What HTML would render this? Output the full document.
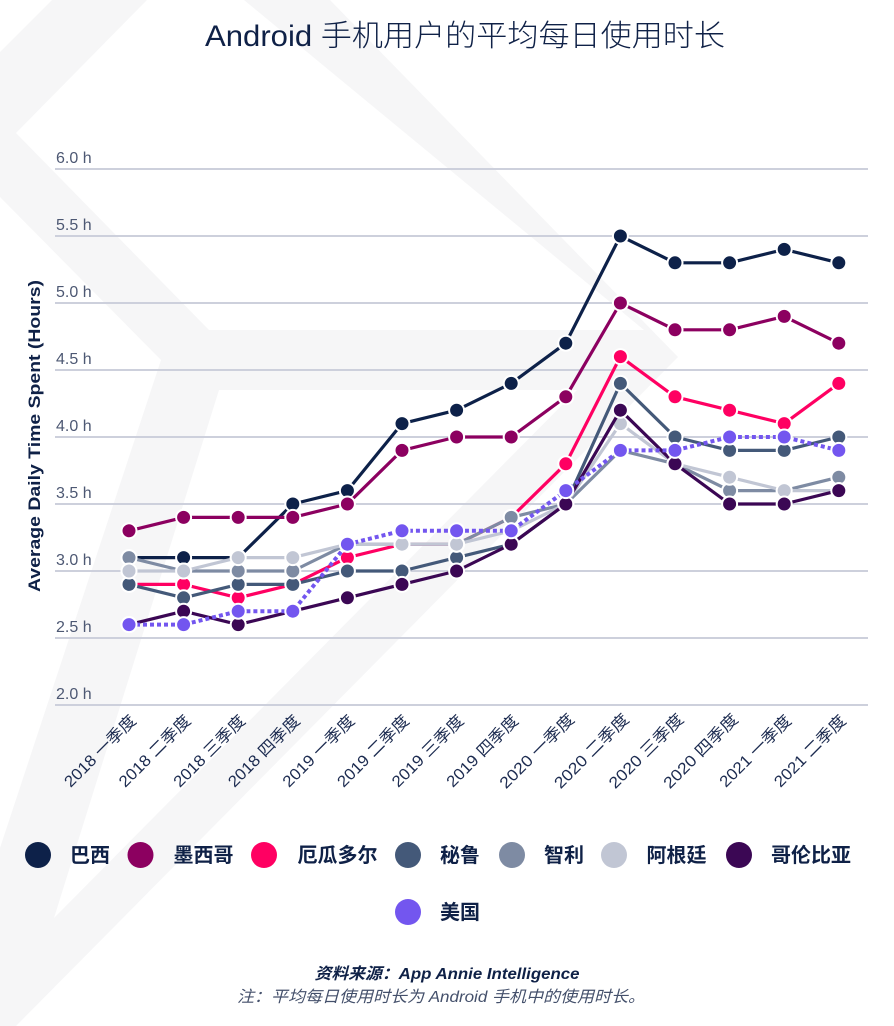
<!DOCTYPE html>
<html>
<head>
<meta charset="utf-8">
<style>
  html, body { margin:0; padding:0; background:#ffffff; }
  svg { display:block; }
  text { font-family: "Liberation Sans", "Noto Sans CJK SC", sans-serif; }
</style>
</head>
<body>
<svg width="894" height="1026" viewBox="0 0 894 1026" xmlns="http://www.w3.org/2000/svg">
  <defs>
    <marker id="mB" markerWidth="20" markerHeight="20" refX="10" refY="10" markerUnits="userSpaceOnUse"><circle cx="10" cy="10" r="7.5" fill="#0d2149" stroke="#ffffff" stroke-width="2" stroke-dasharray="none"/></marker>
    <marker id="mM" markerWidth="20" markerHeight="20" refX="10" refY="10" markerUnits="userSpaceOnUse"><circle cx="10" cy="10" r="7.5" fill="#8c0060" stroke="#ffffff" stroke-width="2" stroke-dasharray="none"/></marker>
    <marker id="mE" markerWidth="20" markerHeight="20" refX="10" refY="10" markerUnits="userSpaceOnUse"><circle cx="10" cy="10" r="7.5" fill="#ff0062" stroke="#ffffff" stroke-width="2" stroke-dasharray="none"/></marker>
    <marker id="mP" markerWidth="20" markerHeight="20" refX="10" refY="10" markerUnits="userSpaceOnUse"><circle cx="10" cy="10" r="7.5" fill="#445979" stroke="#ffffff" stroke-width="2" stroke-dasharray="none"/></marker>
    <marker id="mC" markerWidth="20" markerHeight="20" refX="10" refY="10" markerUnits="userSpaceOnUse"><circle cx="10" cy="10" r="7.5" fill="#7e8ba3" stroke="#ffffff" stroke-width="2" stroke-dasharray="none"/></marker>
    <marker id="mA" markerWidth="20" markerHeight="20" refX="10" refY="10" markerUnits="userSpaceOnUse"><circle cx="10" cy="10" r="7.5" fill="#c1c6d4" stroke="#ffffff" stroke-width="2" stroke-dasharray="none"/></marker>
    <marker id="mK" markerWidth="20" markerHeight="20" refX="10" refY="10" markerUnits="userSpaceOnUse"><circle cx="10" cy="10" r="7.5" fill="#3b0754" stroke="#ffffff" stroke-width="2" stroke-dasharray="none"/></marker>
    <marker id="mU" markerWidth="20" markerHeight="20" refX="10" refY="10" markerUnits="userSpaceOnUse"><circle cx="10" cy="10" r="7.5" fill="#7356ef" stroke="#ffffff" stroke-width="2" stroke-dasharray="none"/></marker>
  </defs>

  <!-- background -->
  <rect x="0" y="0" width="894" height="1026" fill="#ffffff"/>
  <!-- watermark -->
  <polygon points="0,0 330,0 678,357 16,1026 0,1026" fill="#f6f6f7"/>
  <polygon points="147,0 244,0 644,330 209,330 16,133" fill="#ffffff"/>
  <polygon points="219,390 577,390 54,918" fill="#ffffff"/>
  <polygon points="0,197 161,360 0,848" fill="#ffffff"/>
  <polygon points="0,0 52,0 0,52" fill="#ffffff"/>

  <!-- title -->
  <text x="465" y="46" text-anchor="middle" font-size="30" font-weight="300" fill="#0f2147" textLength="520" lengthAdjust="spacingAndGlyphs">Android 手机用户的平均每日使用时长</text>

  <!-- gridlines -->
  <g stroke="#cdd0dc" stroke-width="2">
    <line x1="55" y1="169" x2="868" y2="169"/>
    <line x1="55" y1="236" x2="868" y2="236"/>
    <line x1="55" y1="303" x2="868" y2="303"/>
    <line x1="55" y1="370" x2="868" y2="370"/>
    <line x1="55" y1="437" x2="868" y2="437"/>
    <line x1="55" y1="504" x2="868" y2="504"/>
    <line x1="55" y1="571" x2="868" y2="571"/>
    <line x1="55" y1="638" x2="868" y2="638"/>
    <line x1="55" y1="705" x2="868" y2="705"/>
  </g>

  <!-- y tick labels -->
  <g font-size="16" fill="#4d5873">
    <text x="56" y="163">6.0 h</text>
    <text x="56" y="230">5.5 h</text>
    <text x="56" y="297">5.0 h</text>
    <text x="56" y="364">4.5 h</text>
    <text x="56" y="431">4.0 h</text>
    <text x="56" y="498">3.5 h</text>
    <text x="56" y="565">3.0 h</text>
    <text x="56" y="632">2.5 h</text>
    <text x="56" y="699">2.0 h</text>
  </g>

  <!-- y axis title -->
  <text transform="translate(40,436) rotate(-90)" text-anchor="middle" font-size="17" font-weight="bold" fill="#0f2147" textLength="312" lengthAdjust="spacingAndGlyphs">Average Daily Time Spent (Hours)</text>

  <!-- x labels -->
  <g font-size="16" fill="#1c2b50" text-anchor="middle">
    <text transform="translate(100,751) rotate(-45)" dy="5.5" textLength="94" lengthAdjust="spacingAndGlyphs">2018 一季度</text>
    <text transform="translate(154.6,751) rotate(-45)" dy="5.5" textLength="94" lengthAdjust="spacingAndGlyphs">2018 二季度</text>
    <text transform="translate(209.2,751) rotate(-45)" dy="5.5" textLength="94" lengthAdjust="spacingAndGlyphs">2018 三季度</text>
    <text transform="translate(263.8,751) rotate(-45)" dy="5.5" textLength="94" lengthAdjust="spacingAndGlyphs">2018 四季度</text>
    <text transform="translate(318.4,751) rotate(-45)" dy="5.5" textLength="94" lengthAdjust="spacingAndGlyphs">2019 一季度</text>
    <text transform="translate(373,751) rotate(-45)" dy="5.5" textLength="94" lengthAdjust="spacingAndGlyphs">2019 二季度</text>
    <text transform="translate(427.6,751) rotate(-45)" dy="5.5" textLength="94" lengthAdjust="spacingAndGlyphs">2019 三季度</text>
    <text transform="translate(482.2,751) rotate(-45)" dy="5.5" textLength="94" lengthAdjust="spacingAndGlyphs">2019 四季度</text>
    <text transform="translate(536.8,751) rotate(-45)" dy="5.5" textLength="98" lengthAdjust="spacingAndGlyphs">2020 一季度</text>
    <text transform="translate(591.4,751) rotate(-45)" dy="5.5" textLength="98" lengthAdjust="spacingAndGlyphs">2020 二季度</text>
    <text transform="translate(646,751) rotate(-45)" dy="5.5" textLength="98" lengthAdjust="spacingAndGlyphs">2020 三季度</text>
    <text transform="translate(700.6,751) rotate(-45)" dy="5.5" textLength="98" lengthAdjust="spacingAndGlyphs">2020 四季度</text>
    <text transform="translate(755.2,751) rotate(-45)" dy="5.5" textLength="94" lengthAdjust="spacingAndGlyphs">2021 一季度</text>
    <text transform="translate(809.8,751) rotate(-45)" dy="5.5" textLength="94" lengthAdjust="spacingAndGlyphs">2021 二季度</text>
  </g>

  <!-- series -->
  <g fill="none" stroke-width="3.2" stroke-linejoin="round">
    <!-- Brazil -->
    <polyline stroke="#0d2149" marker-start="url(#mB)" marker-mid="url(#mB)" marker-end="url(#mB)"
      points="129,557.6 183.6,557.6 238.2,557.6 292.8,504 347.4,490.6 402,423.6 456.6,410.2 511.2,383.4 565.8,343.2 620.4,236 675,262.8 729.6,262.8 784.2,249.4 838.8,262.8"/>
    <!-- Mexico -->
    <polyline stroke="#8c0060" marker-start="url(#mM)" marker-mid="url(#mM)" marker-end="url(#mM)"
      points="129,530.8 183.6,517.4 238.2,517.4 292.8,517.4 347.4,504 402,450.4 456.6,437 511.2,437 565.8,396.8 620.4,303 675,329.8 729.6,329.8 784.2,316.4 838.8,343.2"/>
    <!-- Ecuador -->
    <polyline stroke="#ff0062" marker-start="url(#mE)" marker-mid="url(#mE)" marker-end="url(#mE)"
      points="129,584.4 183.6,584.4 238.2,597.8 292.8,584.4 347.4,557.6 402,544.2 456.6,544.2 511.2,517.4 565.8,463.8 620.4,356.6 675,396.8 729.6,410.2 784.2,423.6 838.8,383.4"/>
    <!-- Peru -->
    <polyline stroke="#445979" marker-start="url(#mP)" marker-mid="url(#mP)" marker-end="url(#mP)"
      points="129,584.4 183.6,597.8 238.2,584.4 292.8,584.4 347.4,571 402,571 456.6,557.6 511.2,544.2 565.8,504 620.4,383.4 675,437 729.6,450.4 784.2,450.4 838.8,437"/>
    <!-- Chile -->
    <polyline stroke="#7e8ba3" marker-start="url(#mC)" marker-mid="url(#mC)" marker-end="url(#mC)"
      points="129,557.6 183.6,571 238.2,571 292.8,571 347.4,544.2 402,544.2 456.6,544.2 511.2,517.4 565.8,504 620.4,450.4 675,463.8 729.6,490.6 784.2,490.6 838.8,477.2"/>
    <!-- Argentina -->
    <polyline stroke="#c1c6d4" marker-start="url(#mA)" marker-mid="url(#mA)" marker-end="url(#mA)"
      points="129,571 183.6,571 238.2,557.6 292.8,557.6 347.4,544.2 402,544.2 456.6,544.2 511.2,530.8 565.8,504 620.4,423.6 675,463.8 729.6,477.2 784.2,490.6 838.8,490.6"/>
    <!-- Colombia -->
    <polyline stroke="#3b0754" marker-start="url(#mK)" marker-mid="url(#mK)" marker-end="url(#mK)"
      points="129,624.6 183.6,611.2 238.2,624.6 292.8,611.2 347.4,597.8 402,584.4 456.6,571 511.2,544.2 565.8,504 620.4,410.2 675,463.8 729.6,504 784.2,504 838.8,490.6"/>
    <!-- USA (dotted) -->
    <polyline stroke="#7356ef" stroke-width="4" stroke-dasharray="4 3" marker-start="url(#mU)" marker-mid="url(#mU)" marker-end="url(#mU)"
      points="129,624.6 183.6,624.6 238.2,611.2 292.8,611.2 347.4,544.2 402,530.8 456.6,530.8 511.2,530.8 565.8,490.6 620.4,450.4 675,450.4 729.6,437 784.2,437 838.8,450.4"/>
  </g>

  <!-- legend -->
  <g font-size="20" font-weight="bold" fill="#0f2147">
    <circle cx="38" cy="855" r="13" fill="#0d2149"/>
    <text x="70" y="862">巴西</text>
    <circle cx="140.5" cy="855" r="13" fill="#8c0060"/>
    <text x="173.5" y="862">墨西哥</text>
    <circle cx="264" cy="855" r="13" fill="#ff0062"/>
    <text x="297.5" y="862">厄瓜多尔</text>
    <circle cx="408" cy="855" r="13" fill="#445979"/>
    <text x="440" y="862">秘鲁</text>
    <circle cx="512" cy="855" r="13" fill="#7e8ba3"/>
    <text x="544" y="862">智利</text>
    <circle cx="614" cy="855" r="13" fill="#c1c6d4"/>
    <text x="646.5" y="862">阿根廷</text>
    <circle cx="739" cy="855" r="13" fill="#3b0754"/>
    <text x="771" y="862">哥伦比亚</text>
    <circle cx="408" cy="912" r="13" fill="#7356ef"/>
    <text x="440" y="919">美国</text>
  </g>

  <!-- footer -->
  <text x="447" y="979" text-anchor="middle" font-size="16" font-weight="bold" font-style="italic" fill="#0f2147" textLength="265" lengthAdjust="spacingAndGlyphs">资料来源：App Annie Intelligence</text>
  <text x="441" y="1002" text-anchor="middle" font-size="16" font-style="italic" fill="#44506b" textLength="408" lengthAdjust="spacingAndGlyphs">注：平均每日使用时长为 Android 手机中的使用时长。</text>
</svg>
</body>
</html>
